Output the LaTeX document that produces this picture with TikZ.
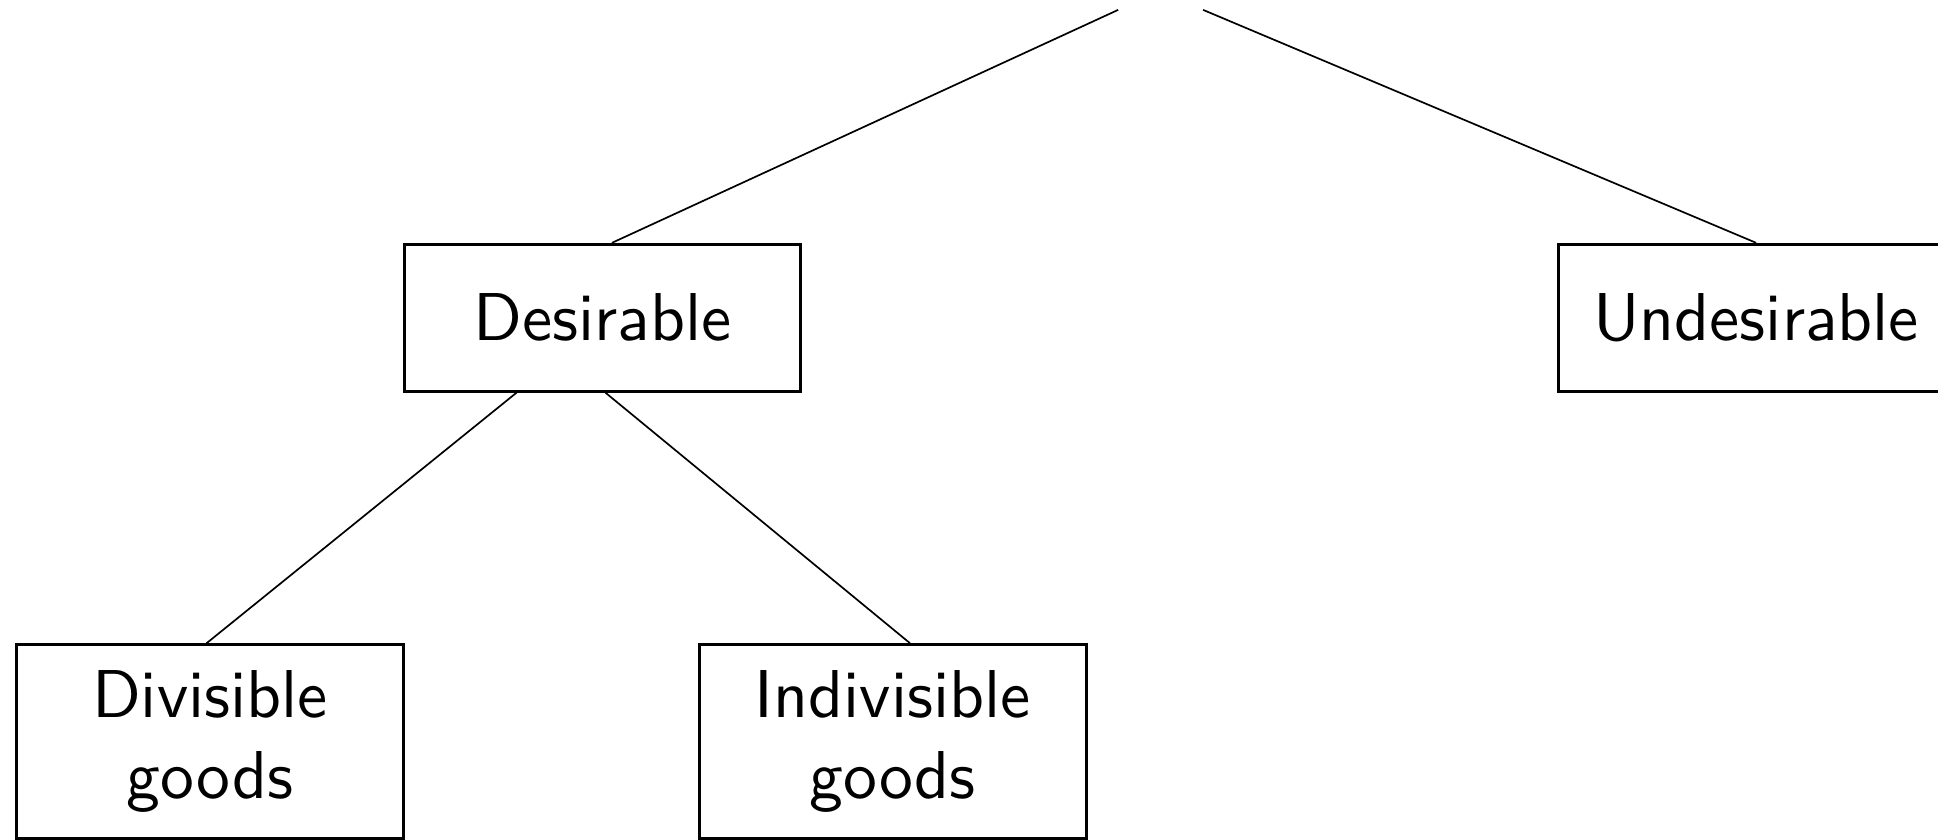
\documentclass[tikz,border=0pt]{standalone}
\usepackage{tikz}
\usetikzlibrary{positioning}
\tikzset{
  every node/.style={font=\sffamily},
  catbox/.style={draw,rectangle,line width=0.44pt,inner sep=0pt,align=center},
}

\begin{document}
\begin{tikzpicture}[
  line width=0.25pt,
  topbox/.style={catbox,minimum width=20.54mm,minimum height=7.62mm},
  leafbox/.style={catbox,minimum width=20.07mm,minimum height=10.05mm}
]
  \useasboundingbox (0,0) rectangle (10.06,4.3605);
  % the root sits just above the visible part
  \node[inner sep=0pt,outer sep=0pt,minimum width=6mm,minimum height=1.94mm] (root) at (6.015,4.406) {};
  \node[topbox] (des) at (3.129,2.711) {Desirable};
  \node[topbox] (undes) at (9.116,2.711) {Undesirable};
  \node[leafbox] (div) at (1.090,0.511) {Divisible\\goods};
  \node[leafbox] (indiv) at (4.634,0.511) {Indivisible\\goods};

  \path
    (root) edge (des.83.2)
    (root) edge (undes.north)
    (des.221.9) edge (div.92.9)
    (des.272.5) edge (indiv.80);
\end{tikzpicture}
\end{document}
